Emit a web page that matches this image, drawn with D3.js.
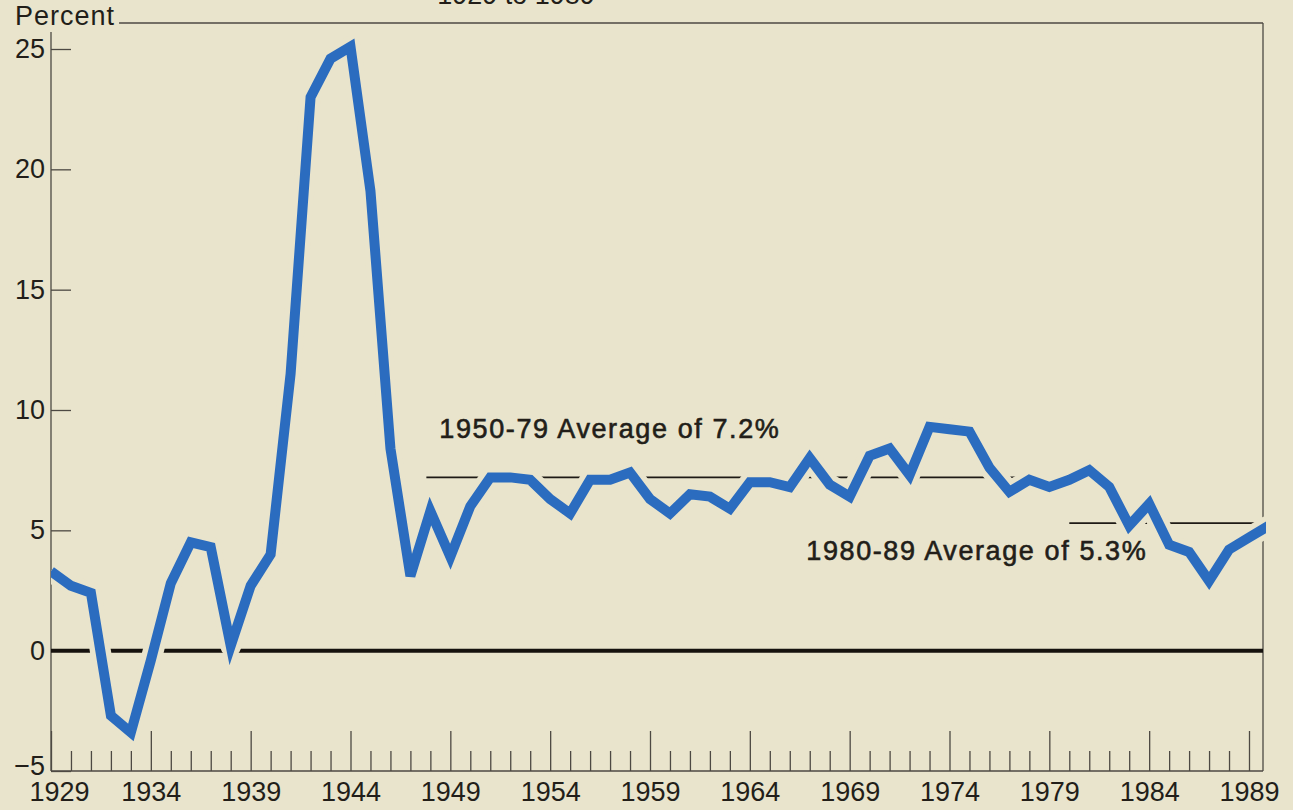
<!DOCTYPE html>
<html><head><meta charset="utf-8">
<script src="https://cdn.jsdelivr.net/npm/d3@7"></script>
<style>
html,body{margin:0;padding:0;background:#e9e4cc;}
svg{display:block;}
text{font-family:"Liberation Sans",Arial,Helvetica,sans-serif;fill:#221e19;}
</style></head><body>
<svg id="chart" width="1293" height="810"></svg>
<script>
// ---- data ----
const years = [1929,1930,1931,1932,1933,1934,1935,1936,1937,1938,1939,1940,1941,1942,1943,1944,1945,1946,1947,1948,1949,
  1950,1951,1952,1953,1954,1955,1956,1957,1958,1959,1960,1961,1962,1963,1964,1965,1966,1967,1968,1969,
  1970,1971,1972,1973,1974,1975,1976,1977,1978,1979,1980,1981,1982,1983,1984,1985,1986,1987,1988,1989,1990];
const savingRate = [3.3,2.7,2.4,-2.7,-3.4,-0.4,2.8,4.5,4.3,0.2,2.7,4.0,11.5,23.0,24.6,25.1,19.1,8.4,3.1,5.8,3.9,
  6.0,7.2,7.2,7.1,6.3,5.7,7.1,7.1,7.4,6.3,5.7,6.5,6.4,5.9,7.0,7.0,6.8,8.0,6.9,6.4,
  8.1,8.4,7.3,9.3,9.2,9.1,7.6,6.6,7.1,6.8,7.1,7.5,6.8,5.2,6.1,4.4,4.1,2.9,4.2,4.7,5.2];
const yTickValues = [-5,0,5,10,15,20,25];
const xLabelYears = [1929,1934,1939,1944,1949,1954,1959,1964,1969,1974,1979,1984,1989];
const avgLabels = ["1950-79 Average of 7.2%","1980-89 Average of 5.3%"];
const avgValues = [7.2,5.3];
const avgStartYears = [1947.8,1980];
const avgEndYears = [1977.4,1990];
const titleText = "1929 to 1989";
const yAxisTitle = "Percent";

// ---- layout ----
const svg = d3.select("#chart");
const plotL = 51, plotR = 1263, plotT = 23, plotB = 771;
const x = d3.scaleLinear().domain([1929,1989]).range([51,1249]);
const y = d3.scaleLinear().domain([-5,25]).range([771,49]);
const axisColor = "#4d4943";
const ink = "#221e19";

svg.append("rect").attr("width",1293).attr("height",810).attr("fill","#e9e4cc");

svg.append("defs").append("clipPath").attr("id","plotclip")
  .append("rect").attr("x",plotL).attr("y",0).attr("width",plotR-plotL+3).attr("height",plotB);

// title (cut off at top)
svg.append("text").attr("x",516).attr("y",4).attr("text-anchor","middle")
  .attr("font-size",27).text(titleText);

// Percent label + top frame
const pct = svg.append("text").attr("x",15).attr("y",25).attr("font-size",27)
  .attr("letter-spacing","1px").text(yAxisTitle);
const pw = pct.node().getComputedTextLength();
const frame = svg.append("g").attr("stroke",axisColor).attr("stroke-width",1.3).attr("fill","none");
frame.append("line").attr("x1",15+pw+4).attr("x2",plotR).attr("y1",plotT).attr("y2",plotT);
frame.append("line").attr("x1",plotR).attr("x2",plotR).attr("y1",plotT).attr("y2",plotB);
frame.append("line").attr("x1",plotL).attr("x2",plotL).attr("y1",32).attr("y2",plotB);
frame.append("line").attr("x1",plotL).attr("x2",plotR).attr("y1",plotB).attr("y2",plotB);

// y axis
const yAxis = svg.append("g").attr("transform",`translate(${plotL},0)`)
  .call(d3.axisLeft(y).tickValues(yTickValues).tickSizeInner(-20).tickSizeOuter(0).tickPadding(6)
    .tickFormat(d => d < 0 ? "\u2212" + Math.abs(d) : String(d)));
yAxis.select(".domain").remove();
yAxis.selectAll("line").attr("stroke",axisColor).attr("stroke-width",1.3);
yAxis.selectAll("text").attr("font-size",27).attr("font-family",null).attr("fill",ink)
  .attr("dy", d => d === -5 ? "0.12em" : "0.32em");

// x axis minor ticks
const minorYears = years.filter(d => d <= 1989 && xLabelYears.indexOf(d) < 0);
const xMinor = svg.append("g").attr("transform",`translate(0,${plotB})`)
  .call(d3.axisBottom(x).tickValues(minorYears).tickSizeInner(-20).tickSizeOuter(0).tickFormat(""));
xMinor.select(".domain").remove();
xMinor.selectAll("line").attr("stroke",axisColor).attr("stroke-width",1.3);

// x axis major ticks + labels
const xMajor = svg.append("g").attr("transform",`translate(0,${plotB})`)
  .call(d3.axisBottom(x).tickValues(xLabelYears).tickSizeInner(-40).tickSizeOuter(0).tickPadding(11)
    .tickFormat(d3.format("d")));
xMajor.select(".domain").remove();
xMajor.selectAll("line").attr("stroke",axisColor).attr("stroke-width",1.3);
xMajor.selectAll("text").attr("font-size",27).attr("font-family",null).attr("fill",ink)
  .attr("dx", d => d === 1929 ? 8 : 0);

// zero line
svg.append("line").attr("x1",plotL).attr("x2",plotR).attr("y1",y(0)).attr("y2",y(0))
  .attr("stroke","#16120e").attr("stroke-width",4);

// average lines
const avgIdx = d3.range(avgValues.length);
svg.append("g").attr("clip-path","url(#plotclip)").selectAll("line").data(avgIdx).join("line")
  .attr("x1",i => x(avgStartYears[i])).attr("x2",i => Math.min(x(avgEndYears[i]),plotR))
  .attr("y1",i => y(avgValues[i])).attr("y2",i => y(avgValues[i]))
  .attr("stroke","#1e1a15").attr("stroke-width",1.8);

// series line with knockout casing
const pts = years.map((yr,i) => [yr, savingRate[i]]);
const lineGen = d3.line().x(d => x(d[0])).y(d => y(d[1]));
const lg = svg.append("g").attr("clip-path","url(#plotclip)");
lg.append("path").attr("d",lineGen(pts)).attr("fill","none")
  .attr("stroke","#e9e4cc").attr("stroke-width",21).attr("stroke-linejoin","round");
lg.append("path").attr("d",lineGen(pts)).attr("fill","none")
  .attr("stroke","#2b6cbf").attr("stroke-width",10).attr("stroke-linejoin","miter").attr("stroke-miterlimit",4);

// annotations
svg.append("text").attr("x",x(avgStartYears[0])+13).attr("y",y(avgValues[0])-39)
  .attr("font-size",27).attr("letter-spacing","1.6px").attr("stroke",ink).attr("stroke-width",0.6)
  .text(avgLabels[0]);
svg.append("text").attr("x",x(avgStartYears[1])-263).attr("y",y(avgValues[1])+37)
  .attr("font-size",27).attr("letter-spacing","1.6px").attr("stroke",ink).attr("stroke-width",0.6)
  .text(avgLabels[1]);
</script>
</body></html>
